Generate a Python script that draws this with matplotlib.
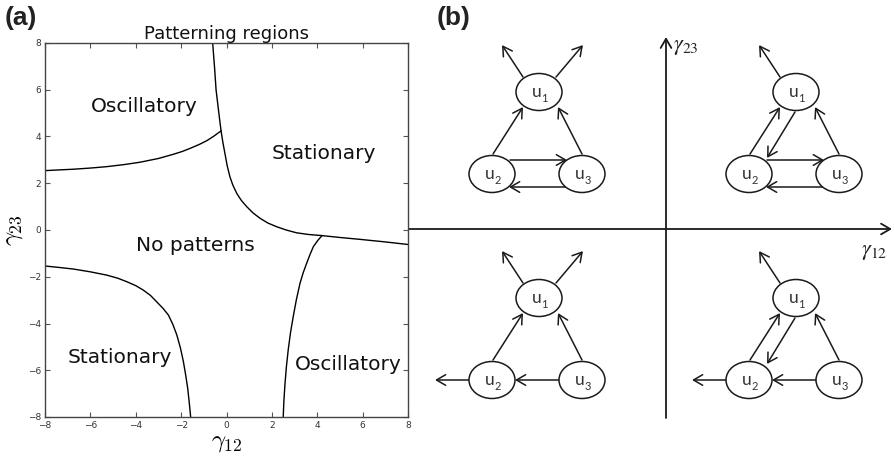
import matplotlib
matplotlib.use("Agg")
import matplotlib.pyplot as plt
from matplotlib.patches import Ellipse, FancyArrowPatch

# ---------------- data: panel (a) boundary curves ----------------
upper_left_x = [-8.0, -7.4, -6.75, -6.0, -5.28, -4.5, -3.81, -3.0, -2.34, -1.95, -1.61, -1.2, -0.87, -0.55, -0.24]
upper_left_y = [2.54, 2.57, 2.60, 2.65, 2.71, 2.80, 2.90, 3.06, 3.24, 3.36, 3.49, 3.66, 3.82, 4.02, 4.24]

hyper_x = [-0.61, -0.53, -0.46, -0.35, -0.24, -0.16, -0.07, 0.03, 0.15, 0.28, 0.45, 0.65, 0.89,
           1.17, 1.48, 1.82, 2.21, 2.63, 3.09, 3.6, 4.21, 5.0, 5.88, 7.0, 8.0]
hyper_y = [8.0, 7.0, 6.0, 5.1, 4.24, 3.75, 3.28, 2.75, 2.28, 1.92, 1.57, 1.27, 1.0,
           0.73, 0.5, 0.30, 0.14, 0.0, -0.12, -0.19, -0.24, -0.32, -0.40, -0.51, -0.62]

lower_left_x = [-8.0, -7.4, -6.75, -6.0, -5.28, -4.8, -4.40, -4.0, -3.67, -3.35, -3.08, -2.8, -2.56,
                -2.36, -2.19, -2.03, -1.90, -1.80, -1.71, -1.64, -1.58]
lower_left_y = [-1.54, -1.60, -1.67, -1.79, -1.93, -2.06, -2.21, -2.38, -2.57, -2.80, -3.07, -3.35, -3.64,
                -4.05, -4.49, -5.05, -5.63, -6.2, -6.77, -7.4, -8.0]

lower_right_x = [2.50, 2.53, 2.58, 2.64, 2.72, 2.82, 2.94, 3.08, 3.24, 3.38, 3.53, 3.68, 3.83, 4.02, 4.21]
lower_right_y = [-8.0, -7.3, -6.56, -5.85, -5.13, -4.4, -3.71, -2.98, -2.28, -1.83, -1.43, -1.05, -0.71, -0.45, -0.24]

region_labels = ["Oscillatory", "Stationary", "No patterns", "Stationary", "Oscillatory"]
region_x = [-3.64, 4.28, -1.37, -4.69, 5.37]
region_y = [5.05, 3.02, -0.90, -5.70, -5.99]

ticks = [-8, -6, -4, -2, 0, 2, 4, 6, 8]

# ---------------- panel (b) diagram structure ----------------
node_names = ["1", "2", "3"]
# node centres relative to u1 (pixels, y down)
node_offsets = {"1": (0, 0), "2": (-47, 82), "3": (43, 82)}
# motif anchors (u1 centre) for the four quadrants
quad_anchor = {"TL": (539, 92), "TR": (796, 92), "BL": (539, 298), "BR": (796, 298)}
# edge segments relative to u1 centre
edge_geom = {
    "out1_left": ((-16, -15), (-37, -47)),
    "out1_right": ((17, -15), (44, -47)),
    "2to1": ((-46, 62), (-16, 15)),
    "1to2": ((-1, 20), (-29, 66)),
    "3to1": ((43, 62), (19, 15)),
    "2to3_top": ((-29, 68), (28, 68)),
    "3to2_bottom": ((28, 95), (-30, 95)),
    "3to2_mid": ((21, 82), (-24, 82)),
    "out2_left": ((-70, 82), (-104, 82)),
}
quad_edges = {
    "TL": ["out1_left", "out1_right", "2to1", "3to1", "2to3_top", "3to2_bottom"],
    "TR": ["out1_left", "2to1", "1to2", "3to1", "2to3_top", "3to2_bottom"],
    "BL": ["out1_left", "out1_right", "2to1", "3to1", "3to2_mid", "out2_left"],
    "BR": ["out1_left", "2to1", "1to2", "3to1", "3to2_mid", "out2_left"],
}

W, H = 894, 458
fig = plt.figure(figsize=(W / 100, H / 100), dpi=100)

# ---------- panel (b): full-figure pixel axes ----------
axb = fig.add_axes([0, 0, 1, 1])
axb.set_xlim(0, W)
axb.set_ylim(H, 0)
axb.axis("off")
axb.patch.set_visible(False)

lc = "#1a1a1a"
tc = "#333333"


def arrow(p0, p1, lw=1.1):
    a = FancyArrowPatch(p0, p1, arrowstyle="->,head_length=0.55,head_width=0.32",
                        mutation_scale=12, shrinkA=0, shrinkB=0, color=lc, lw=lw,
                        capstyle="round", joinstyle="miter")
    axb.add_patch(a)


# coordinate axes in panel (b)
arrow((666, 418), (666, 37), lw=1.3)
arrow((407, 229), (892, 229), lw=1.3)
axb.text(673, 47, r"$\gamma_{23}$", fontsize=16, math_fontfamily="stix",
         ha="left", va="center", color="#222")
axb.text(861, 252, r"$\gamma_{12}$", fontsize=16, math_fontfamily="stix",
         ha="left", va="center", color="#222")

for q, (ax0, ay0) in quad_anchor.items():
    for e in quad_edges[q]:
        (sx, sy), (ex, ey) = edge_geom[e]
        arrow((ax0 + sx, ay0 + sy), (ax0 + ex, ay0 + ey))
    for n in node_names:
        dx, dy = node_offsets[n]
        cx, cy = ax0 + dx, ay0 + dy
        axb.add_patch(Ellipse((cx, cy), 46, 37, facecolor="white", edgecolor=lc,
                              lw=1.1, zorder=3))
        axb.text(cx - 2.5, cy + 5, "u", fontsize=12.5, family="Lato", color=tc,
                 ha="center", va="baseline", zorder=4)
        axb.text(cx + 5.5, cy + 10, n, fontsize=8, family="Lato", color=tc,
                 ha="center", va="baseline", zorder=4)

fig.text(5 / W, 1 - 18 / H, "(a)", fontsize=19, fontweight="bold",
         family="Liberation Sans", va="center", ha="left", color="#222")
fig.text(437 / W, 1 - 18 / H, "(b)", fontsize=19, fontweight="bold",
         family="Liberation Sans", va="center", ha="left", color="#222")

# ---------- panel (a) ----------
ax = fig.add_axes([45 / W, 1 - 417 / H, 363 / W, 374 / H])
for xs, ys in [(upper_left_x, upper_left_y), (hyper_x, hyper_y),
               (lower_left_x, lower_left_y), (lower_right_x, lower_right_y)]:
    ax.plot(xs, ys, color="black", lw=1.0)

for lab, x, y in zip(region_labels, region_x, region_y):
    ax.text(x, y, lab, fontsize=14.5, ha="center", va="baseline", color="#111")

ax.set_xlim(-8, 8)
ax.set_ylim(-8, 8)
ax.set_xticks(ticks)
ax.set_yticks(ticks)
ax.tick_params(direction="in", top=True, right=True, length=3.5, width=0.8,
               labelsize=6.5, pad=3, colors="#555", labelcolor="#333")
for s in ax.spines.values():
    s.set_color("#444")
    s.set_linewidth(1.0)
ax.set_title("Patterning regions", fontsize=13, pad=3, color="#111")
ax.set_xlabel(r"$\gamma_{12}$", fontsize=18, math_fontfamily="cm", labelpad=0)
ax.set_ylabel(r"$\gamma_{23}$", fontsize=18, math_fontfamily="cm", labelpad=2)

fig.savefig("out.png", dpi=100)
